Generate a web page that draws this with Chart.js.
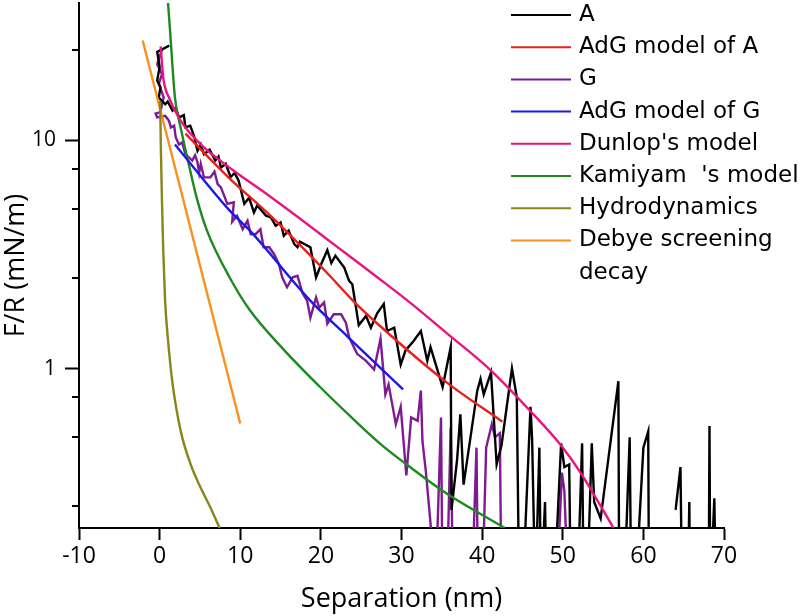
<!DOCTYPE html>
<html>
<head>
<meta charset="utf-8">
<script src="https://cdn.jsdelivr.net/npm/chart.js@4.4.1/dist/chart.umd.min.js"></script>
<style>
  html, body { margin: 0; padding: 0; background: #fff; }
  #wrap { width: 800px; height: 616px; }
</style>
</head>
<body>
<div id="wrap"><canvas id="forceChart" width="800" height="616"></canvas></div>
<script>
// values: x = separation (nm), y = F/R (mN/m)
// y below the axis minimum (0.2) just runs off the bottom, null = gap (negative force)
const seriesNames = ['A', 'AdG model of A', 'G', 'AdG model of G', "Dunlop's model", "Kamiyam  's model", 'Hydrodynamics', 'Debye screening\ndecay'];
const seriesColors = ['#000000', '#e8201c', '#7f1a92', '#1a1ae8', '#e8157f', '#1d8a1d', '#86861a', '#f7901e'];

const xTicks = [-10, 0, 10, 20, 30, 40, 50, 60, 70];
const yTicks = [0.25, 0.5, 0.75, 1, 2.5, 5, 7.5, 10, 25];
const yLabelled = [1, 10];

// measured curve A
const aX = [1.2, -0.3, 0.0, -0.3, 0.1, -0.1, 0.7, 1.0, 1.6, 2.0, 2.4, 3.0, 3.2, 3.8, 4.25, 4.7, 5.1, 5.5, 6.2, 6.9,
  7.3, 7.6, 8.2, 8.8, 9.3, 9.8, 10.5, 11.1, 11.7, 12.1, 13.2, 13.8, 14.4, 15.0, 15.4, 16.0, 16.7, 17.1, 17.4, 18.7,
  19.4, 20.1, 20.8, 21.3, 21.8, 22.9, 23.5, 23.9, 24.7, 25.6, 26.2, 27.0, 27.8, 28.2, 29.1, 29.9, 30.5, 31.5, 32.4, 33.2,
  33.6, 35.1, 36.1, 36.2, 36.9, 37.3, 37.7, 39.4, 39.8, 40.2, 41.1, 41.8, 42.4, 43.7, 44.3, 44.6, 45.0, 46.0, 46.2, 46.6,
  47.1, 47.3, 47.8, 48.0, 48.9, 49.8, 50.2, 50.8, 51.0, 51.8, 52.4, 52.6, 53.0, 53.6, 53.9, 54.7, 56.9, 57.0, 57.6, 58.3,
  58.5, 59.0, 60.0, 60.6, 60.7, 62.0, 64.0, 64.6, 64.8, 65.5, 65.7, 65.8, 67.0, 68.1, 68.2, 68.3, 68.8, 69.0];
const aY = [26, 24.4, 21, 18.3, 17.1, 15.4, 14.4, 14.8, 13.5, 13.9, 12.6, 12.9, 11.4, 11.6, 10.5, 9.0, 9.6, 8.7, 9.1, 8.15,
  8.5, 7.6, 7.9, 6.9, 7.2, 6.66, 5.27, 5.6, 4.83, 5.18, 4.67, 4.6, 4.22, 4.37, 3.82, 4.02, 3.51, 3.4, 3.6, 3.4,
  2.51, 2.9, 3.3, 2.9, 3.12, 2.77, 2.42, 2.34, 1.55, 1.7, 1.51, 1.75, 1.92, 1.46, 1.51, 1.04, 1.2, 1.32, 1.46, 1.08,
  1.24, 0.83, 1.24, 0.24, 0.4, 0.63, 0.31, 0.8, 0.9, 0.77, 0.96, 0.38, 0.46, 1.0, 0.75, 0.1, 0.1, 0.68, 0.49, 0.1,
  0.45, 0.1, 0.26, 0.1, 0.1, 0.47, 0.37, 0.38, 0.1, 0.1, 0.47, 0.1, 0.1, 0.47, 0.26, 0.22, 0.88, 0.1, 0.1, 0.5,
  0.1, 0.1, 0.45, 0.53, 0.1, null, 0.24, 0.37, 0.1, 0.1, 0.26, 0.1, null, 0.1, 0.56, 0.1, 0.27, 0.1];

// measured curve G
const gX = [0.3, -0.3, 0.3, -0.1, 0.3, 0.5, 0.3, 0.1, -0.5, -0.3, 0.7, 1.15, 1.4, 1.8, 2.0, 2.4, 2.8, 3.2, 4.05, 4.4,
  4.7, 4.9, 5.1, 5.5, 6.3, 6.8, 7.2, 7.6, 8.4, 9.2, 9.0, 9.6, 10.3, 10.9, 11.3, 11.9, 12.5, 12.9, 13.6, 14.2,
  14.8, 15.2, 15.8, 16.5, 17.1, 17.7, 18.3, 18.7, 19.4, 19.8, 20.4, 20.8, 21.6, 22.5, 23.1, 23.5, 24.5, 25.6, 26.6, 27.4,
  27.6, 28.0, 28.4, 29.3, 29.9, 30.6, 31.2, 32.0, 32.4, 32.6, 33.0, 33.6, 34.2, 34.9, 35.1, 35.6, 36.1, 36.4, 38.7, 39.3,
  39.5, 40.0, 40.5, 41.2, 41.6, 42.2, 42.4, 49.2, 49.9, 50.2, 50.7];
const gY = [25, 21.6, 19.5, 17.7, 16.2, 15.4, 14.4, 13.3, 13.1, 12.6, 12.8, 12.2, 11.4, 11.6, 10.3, 9.6, 9.8, 8.7, 8.15, 8.6,
  8.0, 7.2, 7.9, 6.88, 6.88, 7.3, 6.43, 6.22, 5.27, 5.35, 4.4, 4.67, 4.08, 4.44, 3.88, 3.88, 4.08, 3.4, 3.4, 3.17,
  2.87, 2.51, 2.27, 2.51, 2.55, 2.15, 1.98, 1.67, 2.05, 1.85, 1.95, 1.57, 1.73, 1.73, 1.59, 1.37, 1.16, 1.08, 0.99, 1.35,
  1.12, 0.77, 0.85, 0.57, 0.68, 0.34, 0.61, 0.59, 0.8, 0.48, 0.36, 0.21, 0.1, 0.61, 0.1, 0.1, 0.55, 0.1, 0.1, 0.45,
  0.1, 0.1, 0.45, 0.57, 0.5, 0.52, 0.1, 0.1, 0.35, 0.29, 0.1];

// model curves
const adgAX = [3.2, 8.7, 13.8, 21.1, 24.0, 27.3, 35.6, 42.5];
const adgAY = [10.7, 6.8, 4.65, 2.55, 1.98, 1.54, 0.87, 0.585];
const adgGX = [1.9, 8.7, 11.2, 18.6, 23.4, 30.2];
const adgGY = [9.6, 4.92, 4.02, 2.0, 1.37, 0.81];
const dunlopX = [0.13, 0.3, 0.5, 1.2, 2.6, 5.1, 9.2, 13.4, 17.1, 21.2, 27.4, 31.1, 35.6, 41.1, 46.0, 49.8, 52.2, 56.3];
const dunlopY = [25.8, 21.5, 18.3, 15.3, 12.2, 9.6, 7.36, 5.78, 4.63, 3.59, 2.45, 1.94, 1.43, 0.98, 0.65, 0.46, 0.35, 0.2];
const kamiX = [1.0, 1.3, 1.9, 2.7, 3.6, 4.6, 5.9, 8.7, 11.2, 15.3, 19.9, 23.6, 27.3, 30.4, 35.6, 42.8];
const kamiY = [42, 30, 15.4, 11.0, 7.9, 5.6, 4.0, 2.5, 1.8, 1.22, 0.83, 0.62, 0.47, 0.385, 0.283, 0.2];
const hydroX = [0.06, 0.16, 0.29, 0.45, 0.68, 1.05, 1.61, 2.61, 3.85, 5.09, 6.33, 7.44];
const hydroY = [14.9, 9.0, 5.44, 3.28, 1.98, 1.32, 0.857, 0.533, 0.38, 0.30, 0.245, 0.2];
const debyeX = [-2.1, 10.0];
const debyeY = [27.4, 0.574];

const pairs = (xs, ys) => xs.map((x, i) => ({ x: x, y: ys[i] }));

const seriesData = [
  pairs(aX, aY), pairs(adgAX, adgAY), pairs(gX, gY), pairs(adgGX, adgGY),
  pairs(dunlopX, dunlopY), pairs(kamiX, kamiY), pairs(hydroX, hydroY), pairs(debyeX, debyeY)
];
const isMeasured = [true, false, true, false, false, false, false, false];

// legend drawn inside the plot, top right
const inlineLegend = {
  id: 'inlineLegend',
  afterDraw(chart) {
    const ctx = chart.ctx;
    ctx.save();
    ctx.font = '23px "DejaVu Sans"';
    ctx.textBaseline = 'middle';
    ctx.fillStyle = '#000';
    ctx.lineWidth = 2;
    let y = 15;
    chart.data.datasets.forEach(ds => {
      const lines = ds.label.split('\n');
      ctx.strokeStyle = ds.borderColor;
      ctx.beginPath();
      ctx.moveTo(511, y);
      ctx.lineTo(571, y);
      ctx.stroke();
      lines.forEach((t, k) => ctx.fillText(t, 579, y + k * 32.2));
      y += 32.2 * lines.length;
    });
    ctx.restore();
  }
};

// short tick marks for the unlabelled log values
const minorTicks = {
  id: 'minorTicks',
  afterDraw(chart) {
    const ys = chart.scales.y;
    const ctx = chart.ctx;
    ctx.save();
    ctx.strokeStyle = '#000';
    ctx.lineWidth = 2;
    yTicks.filter(v => !yLabelled.includes(v)).forEach(v => {
      const py = Math.round(ys.getPixelForValue(v));
      ctx.beginPath();
      ctx.moveTo(ys.right - 7, py);
      ctx.lineTo(ys.right, py);
      ctx.stroke();
    });
    ctx.restore();
  }
};

new Chart(document.getElementById('forceChart'), {
  type: 'scatter',
  data: {
    datasets: seriesData.map((d, i) => ({
      label: seriesNames[i],
      data: d,
      showLine: true,
      borderColor: seriesColors[i],
      backgroundColor: seriesColors[i],
      borderWidth: 2.4,
      pointRadius: 0,
      spanGaps: false,
      cubicInterpolationMode: isMeasured[i] ? 'default' : 'monotone',
      tension: 0,
      order: isMeasured[i] ? 2 : 1
    }))
  },
  options: {
    responsive: false,
    animation: false,
    layout: { padding: { left: 0, right: 76, top: 3, bottom: 0 } },
    plugins: {
      legend: { display: false },
      tooltip: { enabled: false }
    },
    scales: {
      x: {
        type: 'linear',
        min: -10,
        max: 70,
        afterBuildTicks: s => { s.ticks = xTicks.map(v => ({ value: v })); },
        afterFit: s => { s.height = 88; s.paddingLeft = 0; s.paddingRight = 0; },
        grid: { drawOnChartArea: false, drawTicks: true, tickLength: 12, tickWidth: 2, tickColor: '#000' },
        border: { display: true, color: '#000', width: 2 },
        ticks: { color: '#000', font: { family: '"Open Sans", sans-serif', size: 23 }, padding: 3, maxRotation: 0, autoSkip: false },
        title: { display: true, text: 'Separation (nm)', color: '#000', font: { family: '"Open Sans", sans-serif', size: 27 }, padding: { top: 0, bottom: 0 } }
      },
      y: {
        type: 'logarithmic',
        min: 0.2,
        max: 40,
        afterBuildTicks: s => { s.ticks = yTicks.map(v => ({ value: v })); },
        afterFit: s => { s.width = 79; s.paddingTop = 0; s.paddingBottom = 0; },
        grid: {
          drawOnChartArea: false, drawTicks: true, tickLength: 14, tickWidth: 2,
          tickColor: c => (c.tick && yLabelled.includes(c.tick.value)) ? '#000' : 'rgba(0,0,0,0)'
        },
        border: { display: true, color: '#000', width: 2 },
        ticks: {
          color: '#000', font: { family: '"Open Sans", sans-serif', size: 21 }, padding: 9, autoSkip: false,
          callback: v => yLabelled.includes(v) ? String(v) : ''
        },
        title: { display: true, text: 'F/R (mN/m)', color: '#000', font: { family: '"Open Sans", sans-serif', size: 27 }, padding: { top: 0, bottom: 0 } }
      }
    }
  },
  plugins: [inlineLegend, minorTicks]
});
</script>
</body>
</html>
